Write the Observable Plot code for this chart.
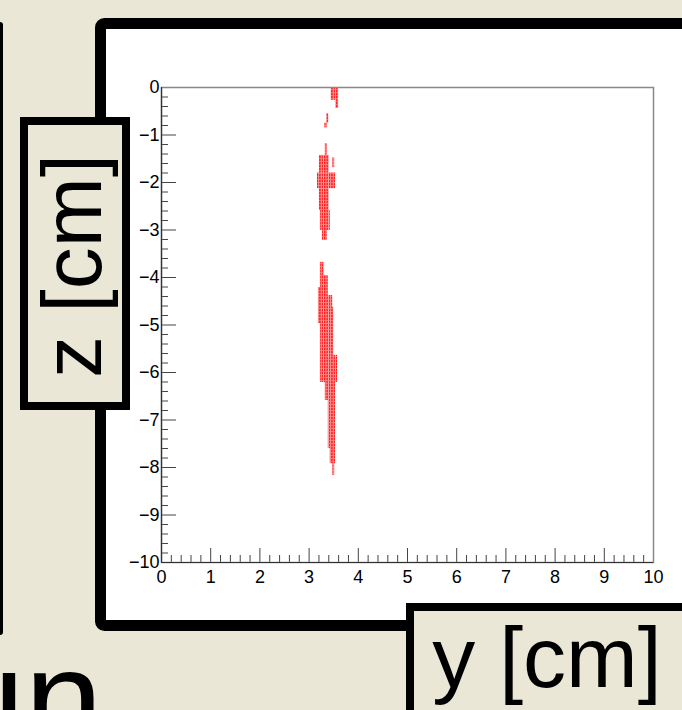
<!DOCTYPE html>
<html>
<head>
<meta charset="utf-8">
<script src="https://cdn.jsdelivr.net/npm/d3@7"></script>
<script src="https://cdn.jsdelivr.net/npm/@observablehq/plot@0.6"></script>
<style>
  html, body { margin: 0; padding: 0; }
  body { width: 682px; height: 710px; overflow: hidden; background: #EAE7D6; position: relative; font-family: "Liberation Sans", Arial, Helvetica, sans-serif; }
  #deco { position: absolute; left: 0; top: 0; }
  #chart { position: absolute; left: 0; top: 0; }
  #chart svg text { font-size: 18px !important; font-family: "Liberation Sans", Arial, Helvetica, sans-serif; fill: #000; }
</style>
</head>
<body>
<svg id="deco" width="682" height="710" xmlns="http://www.w3.org/2000/svg">
  <defs>
    <pattern id="cells" patternUnits="userSpaceOnUse" width="2.4" height="3">
      <rect x="0" y="0" width="2.4" height="3" fill="#ff1a1a"/>
      <rect x="1.5" y="0" width="0.9" height="3" fill="#ffbcbc"/>
      <rect x="0" y="2.3" width="2.4" height="0.7" fill="#ff8a8a"/>
    </pattern>
  </defs>
  <!-- left partial frame -->
  <rect x="-8" y="22" width="11" height="613" rx="3" fill="#000"/>
  <!-- main white pad with thick border -->
  <rect x="100.5" y="23.5" width="640" height="602" rx="4" fill="#fff" stroke="#000" stroke-width="11"/>
  <!-- z label box -->
  <rect x="24" y="121" width="102" height="285" fill="#EAE7D6" stroke="#000" stroke-width="8"/>
  <text x="101" y="266" font-size="84" text-anchor="middle" fill="#000" font-family="Liberation Sans, Arial, sans-serif" transform="rotate(-90,101,266)">z [cm]</text>
  <!-- y label box -->
  <rect x="410" y="607" width="300" height="120" fill="#EAE7D6" stroke="#000" stroke-width="8"/>
  <text x="547" y="687" font-size="86" text-anchor="middle" fill="#000" font-family="Liberation Sans, Arial, sans-serif">y [cm]</text>
  <!-- partial big text at bottom left -->
  <text x="-53" y="747" font-size="140" fill="#000" font-family="Liberation Sans, Arial, sans-serif">un</text>
</svg>
<div id="chart"></div>
<script>
// Histogram occupancy regions (cm): each row covers z from zTop to zBottom and y from yLow to yHigh
const zTop    = [0, -0.27, -0.55, -0.75, -1.18, -1.43, -1.48, -1.80, -2.13, -2.59, -3.01, -3.68, -3.96, -4.21, -4.38, -4.63, -4.97, -5.64, -6.21, -6.59, -7.60, -7.92];
const zBottom = [-0.27, -0.44, -0.75, -0.85, -1.43, -1.80, -1.69, -2.13, -2.59, -3.01, -3.22, -3.96, -4.21, -4.38, -4.63, -4.97, -5.64, -6.21, -6.59, -7.60, -7.92, -8.17];
const yLow    = [3.45, 3.54, 3.36, 3.32, 3.33, 3.21, 3.48, 3.17, 3.21, 3.23, 3.27, 3.23, 3.23, 3.19, 3.19, 3.19, 3.23, 3.23, 3.33, 3.39, 3.43, 3.48];
const yHigh   = [3.60, 3.60, 3.40, 3.37, 3.37, 3.41, 3.52, 3.54, 3.41, 3.43, 3.37, 3.31, 3.39, 3.39, 3.48, 3.50, 3.50, 3.58, 3.54, 3.54, 3.54, 3.52];

const xMajor = [0, 1, 2, 3, 4, 5, 6, 7, 8, 9, 10];
const zMajor = [0, -1, -2, -3, -4, -5, -6, -7, -8, -9, -10];

const rows = zTop.map((z, i) => ({z1: z, z2: zBottom[i], y1: yLow[i], y2: yHigh[i]}));
const xMinor = d3.range(0, 10.0001, 0.2).map(v => +v.toFixed(1)).filter(v => !xMajor.includes(v));
const zMinor = d3.range(-10, 0.0001, 0.2).map(v => +v.toFixed(1)).filter(v => !zMajor.includes(v));

const tickColor = "#444";
const chart = Plot.plot({
  width: 682,
  height: 710,
  marginLeft: 161,
  marginRight: 29,
  marginTop: 87,
  marginBottom: 148,
  style: {background: "transparent", fontFamily: "Liberation Sans, Arial, Helvetica, sans-serif", fontSize: "18px", color: "#000", overflow: "visible"},
  x: {domain: [0, 10]},
  y: {domain: [-10, 0]},
  marks: [
    Plot.rect(rows, {x1: "y1", x2: "y2", y1: "z1", y2: "z2", fill: "url(#cells)"}),
    // inward ticks (ROOT style)
    Plot.axisX({ticks: xMajor, tickSize: 14, dy: -14, tickFormat: () => "", stroke: tickColor}),
    Plot.axisX({ticks: xMinor, tickSize: 7, dy: -7, tickFormat: () => "", stroke: tickColor}),
    Plot.axisY({ticks: zMajor, tickSize: 15, dx: 15, tickFormat: () => "", stroke: tickColor}),
    Plot.axisY({ticks: zMinor, tickSize: 7, dx: 7, tickFormat: () => "", stroke: tickColor}),
    // labels
    Plot.axisX({ticks: xMajor, tickSize: 0, tickPadding: 8, label: null, fontSize: 18, fill: "#000"}),
    Plot.axisY({ticks: zMajor, tickSize: 0, tickPadding: 2, label: null, fontSize: 18, fill: "#000"}),
    Plot.frame({stroke: "#888", strokeWidth: 1.5}),
    Plot.ruleX([0], {stroke: "#333", strokeWidth: 1.2}),
    Plot.ruleY([-10], {stroke: "#333", strokeWidth: 1.2})
  ]
});
document.getElementById("chart").appendChild(chart);
</script>
</body>
</html>
